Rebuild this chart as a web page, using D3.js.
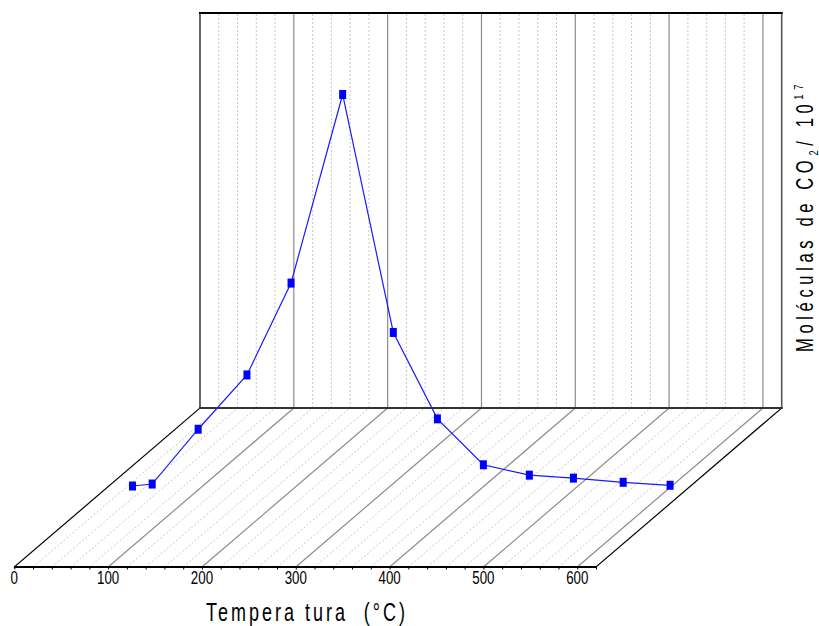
<!DOCTYPE html>
<html>
<head>
<meta charset="utf-8">
<script src="https://cdn.jsdelivr.net/npm/d3@7"></script>
<style>
  html, body { margin: 0; padding: 0; background: #fff; }
  svg { display: block; }
  text { font-family: "Liberation Sans", Arial, sans-serif; fill: #000; }
</style>
</head>
<body>
<svg id="chart" width="819" height="626"></svg>
<script>
// ---- data ----
const temperatures = [27, 48, 97, 149, 196, 251, 305, 352, 401, 450, 497, 550, 600];
const molecules = [0.03, 0.07, 1.18, 2.28, 4.14, 7.96, 3.14, 1.39, 0.46, 0.25, 0.19, 0.105, 0.045];
const xTickLabels = [0, 100, 200, 300, 400, 500, 600];
const xDomain = [0, 620];
const yDomain = [0, 8];
const seriesDepth = 0.5;
const xTitle = "Tempera tura  (°C)";

// ---- layout ----
const svg = d3.select("#chart");
const x = d3.scaleLinear().domain(xDomain).range([14.3, 596]);
const yH = d3.scaleLinear().domain(yDomain).range([0, 395]);
const frontY = 567;
const depthDX = 185.7, depthDY = -159;
const NARROW = 0.72;

function P(v, f, h) {
  return [x(v) + depthDX * f, frontY + depthDY * f - yH(h || 0)];
}

const g = svg.append("g");
const minor = d3.range(20, 620, 20).filter(v => v % 100 !== 0);
const major = d3.range(100, 620, 100);

g.selectAll("line.fminor").data(minor).join("line")
  .attr("x1", d => P(d, 0)[0]).attr("y1", d => P(d, 0)[1])
  .attr("x2", d => P(d, 1)[0]).attr("y2", d => P(d, 1)[1])
  .attr("stroke", "#c8c8c8").attr("stroke-width", 1).attr("stroke-dasharray", "2,2");
g.selectAll("line.wminor").data(minor).join("line")
  .attr("x1", d => P(d, 1)[0]).attr("y1", d => P(d, 1)[1])
  .attr("x2", d => P(d, 1, yDomain[1])[0]).attr("y2", d => P(d, 1, yDomain[1])[1])
  .attr("stroke", "#c8c8c8").attr("stroke-width", 1).attr("stroke-dasharray", "2,2");
g.selectAll("line.fmajor").data(major).join("line")
  .attr("x1", d => P(d, 0)[0]).attr("y1", d => P(d, 0)[1])
  .attr("x2", d => P(d, 1)[0]).attr("y2", d => P(d, 1)[1])
  .attr("stroke", "#8c8c8c").attr("stroke-width", 1.2);
g.selectAll("line.wmajor").data(major).join("line")
  .attr("x1", d => P(d, 1)[0]).attr("y1", d => P(d, 1)[1])
  .attr("x2", d => P(d, 1, yDomain[1])[0]).attr("y2", d => P(d, 1, yDomain[1])[1])
  .attr("stroke", "#8c8c8c").attr("stroke-width", 1.2);

function seg(a, b, color, w) {
  g.append("line").attr("x1", a[0]).attr("y1", a[1]).attr("x2", b[0]).attr("y2", b[1])
    .attr("stroke", color).attr("stroke-width", w).attr("stroke-linecap", "square");
}
const v0 = xDomain[0], v1 = xDomain[1], hTop = yDomain[1];
seg(P(v0, 0), P(v0, 1), "#000", 1.2);
seg(P(v1, 0), P(v1, 1), "#000", 1.2);
seg(P(v0, 1), P(v0, 1, hTop), "#000", 1.2);
seg(P(v1, 1), P(v1, 1, hTop), "#555", 1.6);
seg(P(v0, 1, hTop), P(v1, 1, hTop), "#000", 2);
seg(P(v0, 1), P(v1, 1), "#333", 2);

// front axis
const ax = svg.append("g").attr("transform", `translate(0,${frontY})`);
ax.call(d3.axisBottom(x).tickValues(d3.range(0, 621, 20)).tickSize(2.5).tickFormat(""));
ax.select(".domain").attr("stroke", "#000").attr("stroke-width", 2).attr("d", `M${x(v0)},0H${x(v1)}`);
ax.selectAll(".tick line").attr("stroke", "#000").attr("stroke-width", 1);
ax.selectAll("text.lbl").data(xTickLabels).join("text").attr("class", "lbl")
  .attr("transform", d => `translate(${x(d)},16.5) scale(${NARROW},1)`)
  .attr("text-anchor", "middle").attr("font-size", 18.5).text(d => d);

// series
const pts = temperatures.map((t, i) => P(t, seriesDepth, molecules[i]));
svg.append("path").datum(pts)
  .attr("d", d3.line())
  .attr("fill", "none").attr("stroke", "#1a1aff").attr("stroke-width", 1.2);
svg.selectAll("rect.mk").data(pts).join("rect").attr("class", "mk")
  .attr("x", d => d[0] - 3.5).attr("y", d => d[1] - 4.5)
  .attr("width", 7).attr("height", 9).attr("fill", "#0000ff");

function fitSpacing(sel, target) {
  const node = sel.node();
  const len = node.getComputedTextLength();
  const n = node.textContent.length;
  const ls = (target - len) / n;
  sel.attr("letter-spacing", ls + "px");
}

// x title
const xt = svg.append("text")
  .attr("transform", `translate(206,621) scale(${NARROW},1)`)
  .attr("font-size", 25).attr("xml:space", "preserve").text(xTitle);
fitSpacing(xt, 202 / NARROW);

// y title
const yt = svg.append("text")
  .attr("transform", `translate(813,352) rotate(-90) scale(${NARROW},1)`)
  .attr("font-size", 23).attr("xml:space", "preserve");
yt.append("tspan").text("Moléculas de CO");
yt.append("tspan").attr("font-size", 13).attr("dy", 5).text("2");
yt.append("tspan").attr("dy", -5).text("/ 10");
yt.append("tspan").attr("font-size", 13).attr("dy", -10).text("17");
fitSpacing(yt, 272 / NARROW);
</script>
</body>
</html>
